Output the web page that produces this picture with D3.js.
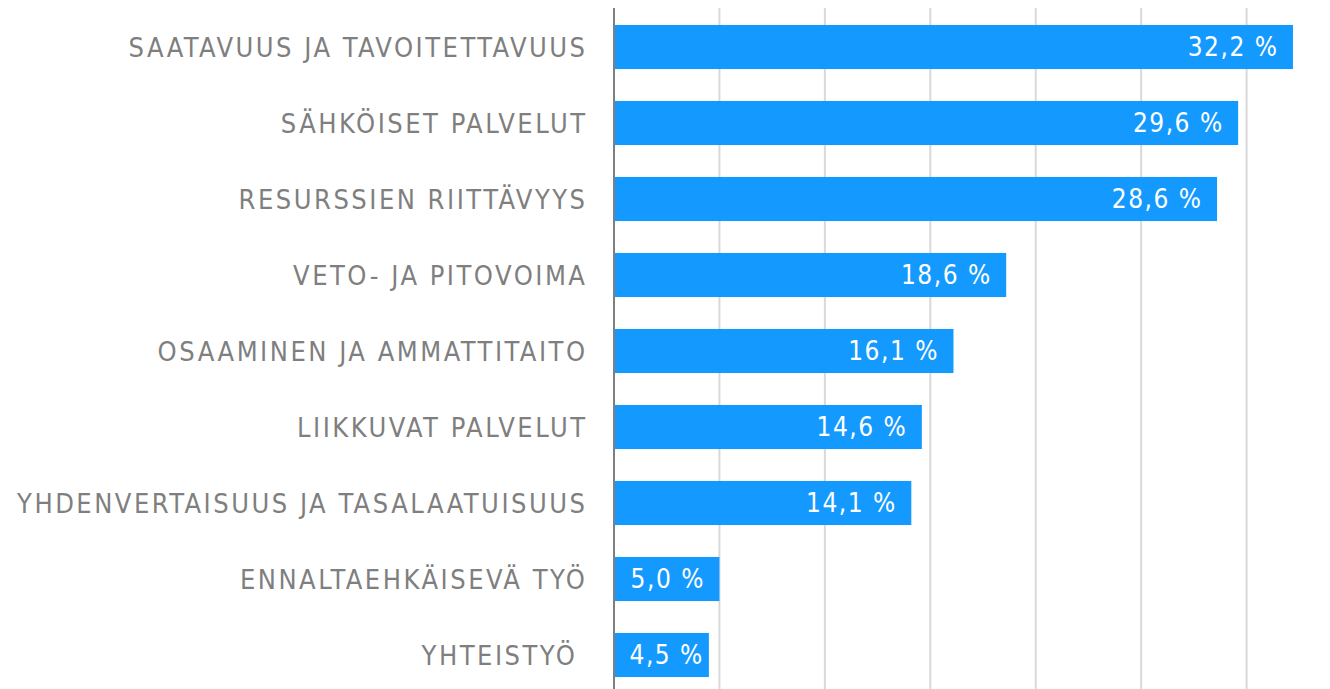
<!DOCTYPE html>
<html><head><meta charset="utf-8">
<script src="https://cdn.jsdelivr.net/npm/d3@7"></script>
<style>body{margin:0;background:#fff;} svg{display:block;}</style>
</head><body>
<svg id="c" width="1330" height="689"></svg>
<script>
const categories = ["SAATAVUUS JA TAVOITETTAVUUS","SÄHKÖISET PALVELUT","RESURSSIEN RIITTÄVYYS","VETO- JA PITOVOIMA","OSAAMINEN JA AMMATTITAITO","LIIKKUVAT PALVELUT","YHDENVERTAISUUS JA TASALAATUISUUS","ENNALTAEHKÄISEVÄ TYÖ","YHTEISTYÖ "];
const values = [32.2,29.6,28.6,18.6,16.1,14.6,14.1,5.0,4.5];
const gridTicks = [5,10,15,20,25,30,35];

const svg = d3.select("#c");
const x = d3.scaleLinear().domain([0,35]).range([614,1352]);
const y = d3.scaleBand().domain(categories).range([9,693]).paddingInner(0.42).paddingOuter(0.21);

svg.append("g").selectAll("line").data(gridTicks).join("line")
  .attr("x1",d=>x(d)).attr("x2",d=>x(d)).attr("y1",8).attr("y2",689)
  .attr("stroke","#d9d9d9").attr("stroke-width",2);

svg.append("g").selectAll("rect").data(values).join("rect")
  .attr("x",x(0)).attr("y",(d,i)=>y(categories[i]))
  .attr("width",d=>x(d)-x(0)).attr("height",y.bandwidth())
  .attr("fill","#1499ff");

svg.append("line").attr("x1",x(0)).attr("x2",x(0)).attr("y1",8).attr("y2",689)
  .attr("stroke","#7f7f7f").attr("stroke-width",2);

const fmt = v => d3.format(".1f")(v).replace(".",",") + " %";
svg.append("g").selectAll("text").data(values).join("text")
  .attr("y",(d,i)=>y(categories[i])+y.bandwidth()/2)
  .attr("dy","0.36em").attr("text-anchor","end")
  .attr("fill","#fff").attr("font-family","DejaVu Sans Condensed, DejaVu Sans")
  .attr("font-size",26).attr("letter-spacing",1.5).text(fmt)
  .attr("x",function(d){
    const w = this.getComputedTextLength();
    return Math.max(x(d)-16, x(0)+14+w) + 1.5;
  });

svg.append("g").selectAll("text").data(categories).join("text")
  .attr("x",585+2.5).attr("y",d=>y(d)+y.bandwidth()/2)
  .attr("dy","0.36em").attr("text-anchor","end").style("white-space","pre")
  .attr("fill","#7f7f7f").attr("font-family","DejaVu Sans Condensed, DejaVu Sans")
  .attr("font-size",27).attr("letter-spacing",2.5).text(d=>d);
</script>
</body></html>
